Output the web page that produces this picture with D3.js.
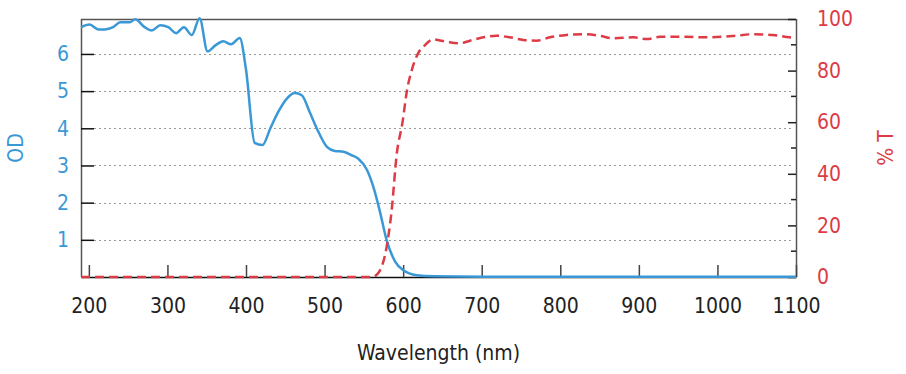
<!DOCTYPE html>
<html>
<head>
<meta charset="utf-8">
<script src="https://cdn.jsdelivr.net/npm/d3@7"></script>
<style>
  body { margin: 0; background: #fff; }
  svg { display: block; }
  text { font-family: Tahoma, "DejaVu Sans Condensed", "DejaVu Sans", sans-serif; }
</style>
</head>
<body>
<svg id="chart" width="906" height="374"></svg>
<script>
// optical density curve (left axis)
var odWl  = [190,201,212,220,231,240,252,259,271,280,291,301,311,321,331,341,351,361,371,381,392,400,411,421,431,441,452,462,471,481,492,503,513,524,534,543,554,562,570,579,590,600,617,640,700,800,900,1000,1100];
var odVal = [6.72,6.79,6.66,6.66,6.72,6.85,6.85,6.93,6.72,6.63,6.77,6.72,6.56,6.72,6.51,6.96,6.07,6.23,6.34,6.26,6.43,5.58,3.61,3.55,4.0,4.44,4.80,4.95,4.89,4.44,3.91,3.50,3.39,3.37,3.28,3.18,2.88,2.43,1.80,0.99,0.41,0.19,0.05,0.02,0.01,0.01,0.01,0.01,0.01];

// transmission curve (right axis)
var tWl  = [190,300,400,500,560,568,579,585,592,599,605,611,619,628,638,655,672,685,702,719,736,753,770,787,808,829,850,868,893,910,927,952,986,1020,1046,1071,1092,1100];
var tVal = [0,0,0,0,0,1.4,11.7,24.7,48,59.6,72.5,80.2,86.7,89.9,92.1,91.2,90.6,91.6,92.9,93.5,92.9,91.9,91.6,92.9,93.8,94.1,93.5,92.5,92.9,92.2,93.1,93.1,92.9,93.4,94.1,93.8,92.9,92.8];

var xTicks  = [200,300,400,500,600,700,800,900,1000,1100];
var odTicks = [1,2,3,4,5,6];
var tTicks  = [0,20,40,60,80,100];
var tMinor  = [10,30,50,70,90];

draw();

function draw() {
  var blue = "#3b98d6", red = "#dd3b45";

  var svg = d3.select("#chart");
  var mLeft = 81, mRight = 796, mTop = 19, mBottom = 277;

  var x   = d3.scaleLinear().domain([190, 1100]).range([mLeft, mRight]);
  var yOD = d3.scaleLinear().domain([0, 6.94]).range([mBottom, mTop]);
  var yT  = d3.scaleLinear().domain([0, 100]).range([mBottom, mTop]);

  // grid lines
  svg.append("g").selectAll("line")
      .data(odTicks).enter().append("line")
      .attr("x1", mLeft + 13).attr("x2", mRight - 2)
      .attr("y1", function(d) { return Math.round(yOD(d)) + 0.5; })
      .attr("y2", function(d) { return Math.round(yOD(d)) + 0.5; })
      .attr("stroke", "#999").attr("stroke-width", 1)
      .attr("stroke-dasharray", "2,3");

  // frame
  svg.append("line").attr("x1", mLeft).attr("x2", mRight).attr("y1", mTop + 0.5).attr("y2", mTop + 0.5)
      .attr("stroke", "#555").attr("stroke-width", 1.5);
  svg.append("line").attr("x1", mLeft + 0.5).attr("x2", mLeft + 0.5).attr("y1", mTop).attr("y2", mBottom)
      .attr("stroke", "#555").attr("stroke-width", 1.5);
  svg.append("line").attr("x1", mRight + 0.5).attr("x2", mRight + 0.5).attr("y1", mTop).attr("y2", mBottom)
      .attr("stroke", "#555").attr("stroke-width", 1.5);

  // x axis
  var xAxis = svg.append("g").attr("transform", "translate(0," + mBottom + ")")
      .call(d3.axisBottom(x).tickValues(xTicks).tickFormat(d3.format("d"))
        .tickSizeInner(-12).tickSizeOuter(0).tickPadding(21));
  xAxis.select(".domain").attr("stroke", "#111").attr("stroke-width", 1.5);
  xAxis.selectAll(".tick line").attr("stroke", "#444").attr("stroke-width", 1.5);
  xAxis.selectAll("text").attr("font-size", 21).attr("fill", "#222");

  // left axis (OD)
  var yAxisL = svg.append("g").attr("transform", "translate(" + mLeft + ",0)")
      .call(d3.axisLeft(yOD).tickValues(odTicks).tickFormat(d3.format("d"))
        .tickSizeInner(-13).tickSizeOuter(0).tickPadding(12));
  yAxisL.select(".domain").remove();
  yAxisL.selectAll(".tick line").attr("stroke", "#111").attr("stroke-width", 1.5);
  yAxisL.selectAll("text").attr("font-size", 21).attr("fill", blue);

  // right axis (% T)
  var yAxisR = svg.append("g").attr("transform", "translate(" + mRight + ",0)")
      .call(d3.axisRight(yT).tickValues(tTicks).tickFormat(d3.format("d"))
        .tickSizeInner(-8).tickSizeOuter(0).tickPadding(21));
  yAxisR.select(".domain").remove();
  yAxisR.selectAll(".tick line").attr("stroke", "#222").attr("stroke-width", 1.5);
  yAxisR.selectAll("text").attr("font-size", 21).attr("fill", red);

  svg.append("g").selectAll("line")
      .data(tMinor).enter().append("line")
      .attr("x1", mRight - 5).attr("x2", mRight)
      .attr("y1", function(d) { return yT(d); })
      .attr("y2", function(d) { return yT(d); })
      .attr("stroke", "#222").attr("stroke-width", 1.5);

  // axis titles
  svg.append("text").attr("x", (mLeft + mRight) / 2).attr("y", 360)
      .attr("text-anchor", "middle").attr("font-size", 21).attr("fill", "#222")
      .text("Wavelength (nm)");
  svg.append("text").attr("transform", "translate(23," + (mTop + mBottom) / 2 + ") rotate(-90)")
      .attr("text-anchor", "middle").attr("font-size", 21).attr("fill", blue)
      .text("OD");
  svg.append("text").attr("transform", "translate(893," + (mTop + mBottom) / 2 + ") rotate(-90)")
      .attr("text-anchor", "middle").attr("font-size", 21).attr("fill", red)
      .text("% T");

  // curves
  var odLine = d3.line()
      .x(function(d, i) { return x(odWl[i]); })
      .y(function(d) { return yOD(d); })
      .curve(d3.curveMonotoneX);

  var tLine = d3.line()
      .x(function(d, i) { return x(tWl[i]); })
      .y(function(d) { return yT(d); })
      .curve(d3.curveMonotoneX);

  svg.append("path").datum(odVal)
      .attr("d", odLine)
      .attr("fill", "none").attr("stroke", blue).attr("stroke-width", 2.5)
      .attr("stroke-linejoin", "round");

  svg.append("path").datum(tVal)
      .attr("d", tLine)
      .attr("fill", "none").attr("stroke", red).attr("stroke-width", 2.5)
      .attr("stroke-dasharray", "9,5");
}
</script>
</body>
</html>
